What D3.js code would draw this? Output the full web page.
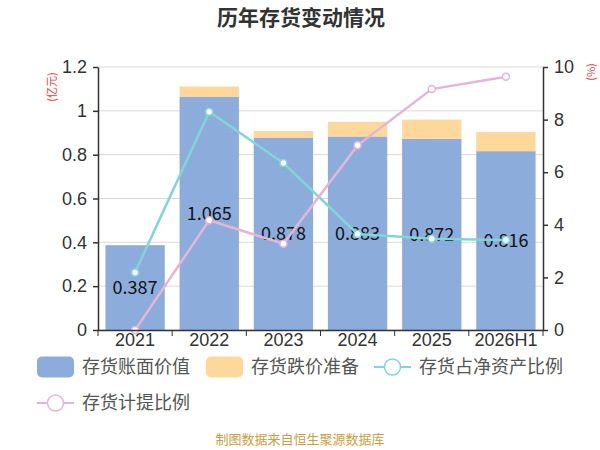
<!DOCTYPE html>
<html>
<head>
<meta charset="utf-8">
<script src="https://cdn.jsdelivr.net/npm/d3@7"></script>
<style>
  body { margin: 0; background: #fff; }
  svg { display: block; font-family: "Noto Sans CJK SC", "Noto Sans", sans-serif; }
</style>
</head>
<body>
<div class="container"></div>
<script>
const WIDTH = 600;
const HEIGHT = 450;
const LEFT = 98;
const RIGHT = 543;
const TOP = 67;
const BOTTOM = 330;

// data
var years = ["2021", "2022", "2023", "2024", "2025", "2026H1"];
var bookValue = [0.387, 1.065, 0.878, 0.883, 0.872, 0.816];
var impairment = [0, 0.046, 0.030, 0.067, 0.088, 0.087];
var netAssetRatio = [2.19, 8.30, 6.35, 3.65, 3.47, 3.42];
var provisionRatio = [0, 4.17, 3.28, 7.02, 9.16, 9.63];
var leftTicks = [0, 0.2, 0.4, 0.6, 0.8, 1, 1.2];
var rightTicks = [0, 2, 4, 6, 8, 10];

var BLUE = "#8cacdb";
var ORANGE = "#fed89a";
var CYAN = "#80d6d6";
var PINK = "#e6b4d6";

var translate = function(x, y){
	return "translate(" + x + ", " + y + ")";
};

var drawLine = function(svg, values, color, xScale, yScale){
	var line = d3.line()
		.x(function(d, i){ return xScale(years[i]) + xScale.bandwidth()/2; })
		.y(function(d){ return yScale(d); });
	var g = svg.append("g");
	g.append("path")
		.attr("d", line(values))
		.style("fill", "none")
		.style("stroke", color)
		.style("stroke-width", 2.5);
	g.selectAll("circle").data(values)
		.enter()
		.append("circle")
		.attr("cx", function(d, i){ return xScale(years[i]) + xScale.bandwidth()/2; })
		.attr("cy", function(d){ return yScale(d); })
		.attr("r", 3.5)
		.style("fill", "#fff")
		.style("stroke", color)
		.style("stroke-width", 1.5);
};

var load = function(){
	var xScale = d3.scaleBand()
		.domain(years)
		.range([LEFT, RIGHT])
		.paddingInner(0.2)
		.paddingOuter(0.1);

	var yLeft = d3.scaleLinear()
		.domain([0, 1.2])
		.range([BOTTOM, TOP]);

	var yRight = d3.scaleLinear()
		.domain([0, 10])
		.range([BOTTOM, TOP]);

	var svg = d3.select(".container").append("svg")
		.attr("width", WIDTH)
		.attr("height", HEIGHT);

	// title
	svg.append("text")
		.attr("x", 301).attr("y", 25)
		.attr("text-anchor", "middle")
		.style("font-size", "21px")
		.style("font-weight", "bold")
		.style("fill", "#333")
		.text("历年存货变动情况");

	// grid
	svg.append("g").selectAll("line").data(leftTicks)
		.enter().append("line")
		.attr("x1", LEFT).attr("x2", RIGHT)
		.attr("y1", function(d){ return yLeft(d); })
		.attr("y2", function(d){ return yLeft(d); })
		.style("stroke", "#d9d9d9");

	// bars
	var bars = svg.append("g");
	bars.selectAll("rect.book").data(bookValue)
		.enter().append("rect")
		.attr("x", function(d, i){ return xScale(years[i]); })
		.attr("width", xScale.bandwidth())
		.attr("y", function(d){ return yLeft(d); })
		.attr("height", function(d){ return yLeft(0) - yLeft(d); })
		.style("fill", BLUE);
	bars.selectAll("rect.imp").data(impairment)
		.enter().append("rect")
		.attr("x", function(d, i){ return xScale(years[i]); })
		.attr("width", xScale.bandwidth())
		.attr("y", function(d, i){ return yLeft(bookValue[i] + d); })
		.attr("height", function(d, i){ return yLeft(bookValue[i]) - yLeft(bookValue[i] + d); })
		.style("fill", ORANGE);

	// bar labels
	svg.append("g").selectAll("text").data(bookValue)
		.enter().append("text")
		.attr("x", function(d, i){ return xScale(years[i]) + xScale.bandwidth()/2; })
		.attr("y", function(d){ return yLeft(d/2); })
		.attr("dy", "0.35em")
		.attr("text-anchor", "middle")
		.style("font-size", "18px")
		.style("fill", "#111")
		.text(function(d){ return d3.format(".3f")(d); });

	// lines
	drawLine(svg, netAssetRatio, CYAN, xScale, yRight);
	drawLine(svg, provisionRatio, PINK, xScale, yRight);

	// axes
	var xAxis = d3.axisBottom(xScale).tickSize(0).tickPadding(3);
	var xg = svg.append("g").attr("transform", translate(0, BOTTOM)).call(xAxis);
	xg.selectAll("text").style("font-size", "18px").style("fill", "#333");
	xg.select(".domain").attr("d", "M" + LEFT + ",0.5H" + RIGHT).style("stroke", "#333").style("stroke-width", 1.5);
	var boundaries = years.map(function(y){ return xScale(y) - xScale.step()*xScale.paddingInner()/2; }).concat([RIGHT]);
	xg.selectAll("line.bound").data(boundaries)
		.enter().append("line")
		.attr("x1", function(d){ return d; }).attr("x2", function(d){ return d; })
		.attr("y1", 0).attr("y2", 6)
		.style("stroke", "#333");

	var leftAxis = d3.axisLeft(yLeft).tickValues(leftTicks).tickSize(5).tickSizeOuter(0).tickPadding(6)
		.tickFormat(d3.format("~g"));
	var lg = svg.append("g").attr("transform", translate(LEFT, 0)).call(leftAxis);
	lg.selectAll("text").style("font-size", "18px").style("fill", "#333");
	lg.selectAll("line, path").style("stroke", "#333").style("stroke-width", 1.5);

	var rightAxis = d3.axisRight(yRight).tickValues(rightTicks).tickSize(5).tickSizeOuter(0).tickPadding(6);
	var rg = svg.append("g").attr("transform", translate(RIGHT, 0)).call(rightAxis);
	rg.selectAll("text").style("font-size", "18px").style("fill", "#333");
	rg.selectAll("line, path").style("stroke", "#333").style("stroke-width", 1.5);

	// unit labels
	svg.append("text")
		.attr("transform", translate(56, 87) + " rotate(-90)")
		.attr("text-anchor", "middle")
		.style("font-size", "11px")
		.style("fill", "#f23c3c")
		.text("(亿元)");
	svg.append("text")
		.attr("transform", translate(595, 72) + " rotate(-90)")
		.attr("text-anchor", "middle")
		.style("font-size", "11px")
		.style("fill", "#f23c3c")
		.text("(%)");

	// legend
	var legend = svg.append("g");
	var boxItems = [
		{ name: "存货账面价值", color: BLUE, x: 37, y: 367 },
		{ name: "存货跌价准备", color: ORANGE, x: 206, y: 367 }
	];
	var lineItems = [
		{ name: "存货占净资产比例", color: CYAN, x: 374, y: 367 },
		{ name: "存货计提比例", color: PINK, x: 37, y: 403 }
	];
	legend.selectAll("rect").data(boxItems)
		.enter().append("rect")
		.attr("x", function(d){ return d.x; })
		.attr("y", function(d){ return d.y - 10.5; })
		.attr("width", 37).attr("height", 21)
		.attr("rx", 5)
		.style("fill", function(d){ return d.color; });
	var li = legend.selectAll("g.li").data(lineItems).enter().append("g");
	li.append("line")
		.attr("x1", function(d){ return d.x; })
		.attr("x2", function(d){ return d.x + 37; })
		.attr("y1", function(d){ return d.y; })
		.attr("y2", function(d){ return d.y; })
		.style("stroke", function(d){ return d.color; })
		.style("stroke-width", 2);
	li.append("circle")
		.attr("cx", function(d){ return d.x + 18.5; })
		.attr("cy", function(d){ return d.y; })
		.attr("r", 8)
		.style("fill", "#fff")
		.style("stroke", function(d){ return d.color; })
		.style("stroke-width", 1.5);
	legend.selectAll("text").data(boxItems.concat(lineItems))
		.enter().append("text")
		.attr("x", function(d){ return d.x + 45; })
		.attr("y", function(d){ return d.y; })
		.attr("dy", "0.35em")
		.style("font-size", "18px")
		.style("fill", "#555")
		.text(function(d){ return d.name; });

	// footer
	svg.append("text")
		.attr("x", 300).attr("y", 444)
		.attr("text-anchor", "middle")
		.style("font-size", "13px")
		.style("fill", "#c9a042")
		.text("制图数据来自恒生聚源数据库");
};

window.onload = load;
</script>
</body>
</html>
